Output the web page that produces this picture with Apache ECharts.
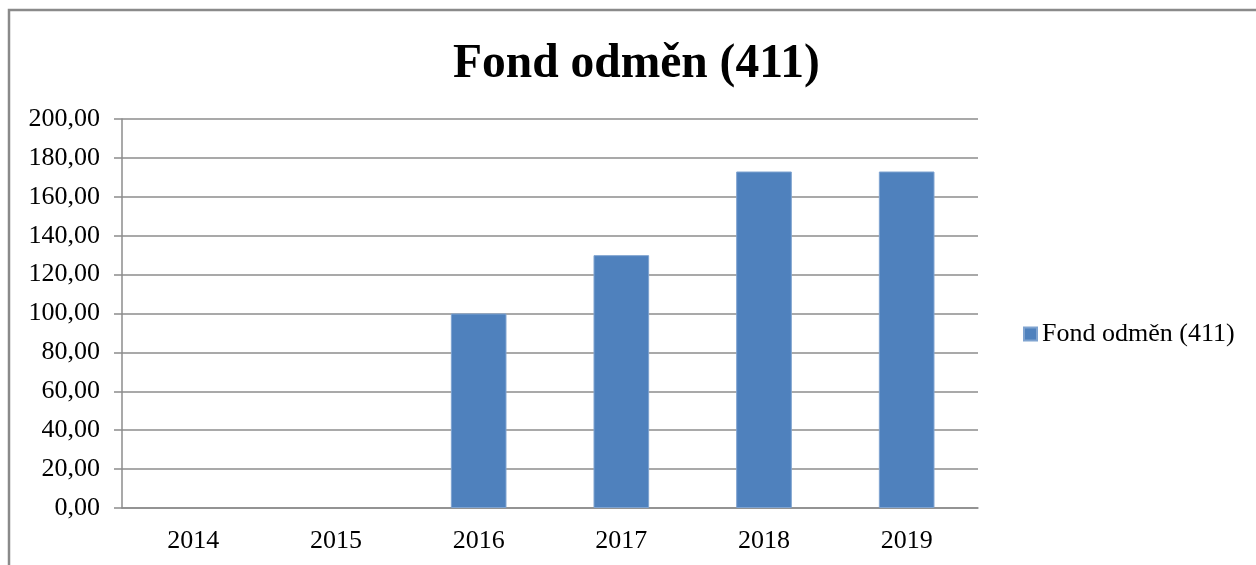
<!DOCTYPE html>
<html>
<head>
<meta charset="utf-8">
<script src="https://cdn.jsdelivr.net/npm/echarts@6/dist/echarts.min.js"></script>
<style>
  html, body { margin: 0; padding: 0; background: #fff; }
  #chart { width: 1256px; height: 565px; }
</style>
</head>
<body>
<div id="chart"></div>
<script>
const years = ["2014", "2015", "2016", "2017", "2018", "2019"];
const fondValues = [null, null, 100, 130, 173, 173];
const seriesName = "Fond odměn (411)";

const serif = "'Liberation Serif', 'Times New Roman', serif";
const gridColor = "#8c8c8c";

const chart = echarts.init(document.getElementById("chart"));
chart.setOption({
  backgroundColor: "#fff",
  animation: false,
  graphic: [
    {
      // rámeček grafu
      type: "rect",
      shape: { x: 9, y: 10, width: 1260, height: 570 },
      style: { fill: "none", stroke: "#8a8a8a", lineWidth: 2.5 },
      silent: true,
    },
  ],
  title: {
    text: "Fond odměn (411)",
    left: 448,
    top: 36,
    textStyle: {
      fontFamily: serif,
      fontWeight: "bold",
      fontSize: 47.5,
      color: "#000",
    },
  },
  legend: {
    orient: "vertical",
    left: 1018,
    top: 316,
    itemWidth: 13,
    itemHeight: 13,
    itemGap: 6,
    icon: "rect",
    textStyle: { fontFamily: serif, fontSize: 26, color: "#000" },
    data: [seriesName],
  },
  grid: {
    left: 122,
    right: 278,
    top: 119,
    bottom: 57,
    containLabel: false,
  },
  xAxis: {
    type: "category",
    data: years,
    axisLine: { lineStyle: { color: gridColor, width: 1.5 } },
    axisTick: { length: 7, lineStyle: { color: gridColor, width: 1.5 } },
    axisLabel: {
      fontFamily: serif,
      fontSize: 26,
      color: "#000",
      margin: 20,
    },
  },
  yAxis: {
    type: "value",
    min: 0,
    max: 200,
    interval: 20,
    axisLine: { show: true, lineStyle: { color: gridColor, width: 1.5 } },
    axisTick: { show: true, length: 8, lineStyle: { color: gridColor, width: 1.5 } },
    splitLine: { lineStyle: { color: gridColor, width: 1.5 } },
    axisLabel: {
      fontFamily: serif,
      fontSize: 26,
      color: "#000",
      margin: 22,
      formatter: (v) => v.toFixed(2).replace(".", ","),
    },
  },
  series: [
    {
      name: seriesName,
      type: "bar",
      data: fondValues,
      barWidth: "39%",
      itemStyle: {
        color: "#4f81bd",
        borderColor: "#7fa3d0",
        borderWidth: 1,
      },
    },
  ],
});
</script>
</body>
</html>
